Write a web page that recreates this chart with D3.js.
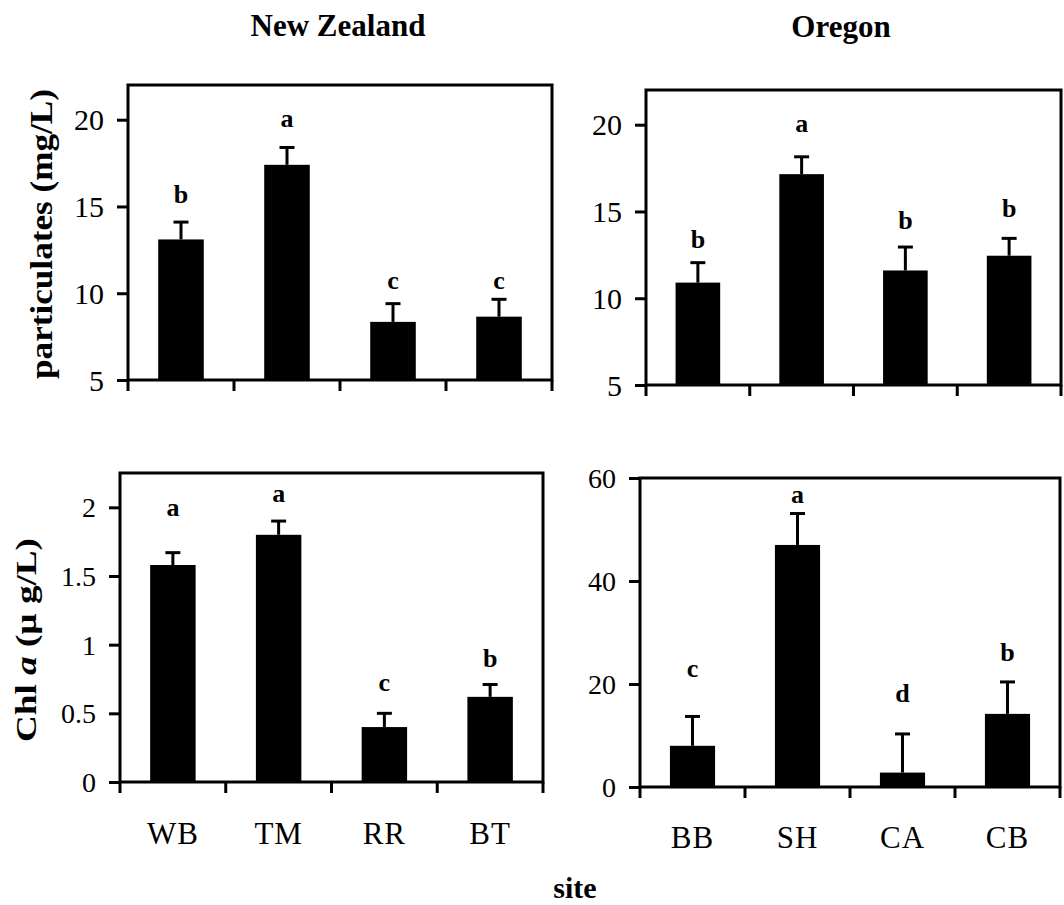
<!DOCTYPE html>
<html>
<head>
<meta charset="utf-8">
<script src="https://cdn.jsdelivr.net/npm/d3@7"></script>
<style>
  body { margin: 0; background: #fff; }
  svg { display: block; }
  text { font-family: "Liberation Serif", "Times New Roman", serif; fill: #000; }
</style>
</head>
<body>
<svg id="chart" width="1064" height="905"></svg>
<script>
// ---- data ----
const nzSites = ['WB', 'TM', 'RR', 'BT'];
const orSites = ['BB', 'SH', 'CA', 'CB'];

// particulates (mg/L)
const nzPart = [13.1, 17.4, 8.35, 8.65];
const nzPartErr = [1.0, 1.0, 1.05, 1.0];
const nzPartSig = ['b', 'a', 'c', 'c'];
const nzPartSigY = [15.2, 19.6, 10.25, 10.25];

const orPart = [10.9, 17.15, 11.6, 12.45];
const orPartErr = [1.15, 1.0, 1.35, 1.0];
const orPartSig = ['b', 'a', 'b', 'b'];
const orPartSigY = [12.9, 19.6, 14.0, 14.7];

// Chl a (ug/L)
const nzChl = [1.58, 1.80, 0.40, 0.62];
const nzChlErr = [0.09, 0.10, 0.10, 0.09];
const nzChlSig = ['a', 'a', 'c', 'b'];
const nzChlSigY = [1.94, 2.04, 0.66, 0.84];

const orChl = [8, 47, 2.8, 14.2];
const orChlErr = [5.7, 6.1, 7.5, 6.2];
const orChlSig = ['c', 'a', 'd', 'b'];
const orChlSigY = [21.4, 55.1, 16.5, 24.5];

const partTicks = [5, 10, 15, 20];
const nzChlTicks = [0, 0.5, 1, 1.5, 2];
const orChlTicks = [0, 20, 40, 60];

// ---- layout ----
const svg = d3.select('#chart');
const LW = 3;

const panels = [
  { sites: nzSites, vals: nzPart, errs: nzPartErr, sig: nzPartSig, sigY: nzPartSigY,
    domain: [5, 22], ticks: partTicks, x0: 128, x1: 552, y0: 85, y1: 380, tickFont: 30 },
  { sites: orSites, vals: orPart, errs: orPartErr, sig: orPartSig, sigY: orPartSigY,
    domain: [5, 22], ticks: partTicks, x0: 646, x1: 1061, y0: 90, y1: 385, tickFont: 30 },
  { sites: nzSites, vals: nzChl, errs: nzChlErr, sig: nzChlSig, sigY: nzChlSigY,
    domain: [0, 2.25], ticks: nzChlTicks, x0: 120, x1: 543, y0: 473, y1: 782, tickFont: 28,
    labels: true, labelY: 844 },
  { sites: orSites, vals: orChl, errs: orChlErr, sig: orChlSig, sigY: orChlSigY,
    domain: [0, 60], ticks: orChlTicks, x0: 640, x1: 1060, y0: 478, y1: 787, tickFont: 28,
    labels: true, labelY: 848 }
];

panels.forEach(p => {
  const g = svg.append('g');
  const x = d3.scaleBand().domain(p.sites).range([p.x0, p.x1])
    .paddingInner(0.57).paddingOuter(0.285);
  const y = d3.scaleLinear().domain(p.domain).range([p.y1, p.y0]);
  const bw = x.bandwidth();

  // bars
  g.selectAll('rect.bar').data(p.sites).join('rect')
    .attr('class', 'bar')
    .attr('x', d => x(d))
    .attr('width', bw)
    .attr('y', (d, i) => y(p.vals[i]))
    .attr('height', (d, i) => y(p.domain[0]) - y(p.vals[i]))
    .attr('fill', '#000');

  // error bars (upper only)
  const eb = g.selectAll('g.err').data(p.sites).join('g').attr('class', 'err');
  eb.append('line')
    .attr('x1', d => x(d) + bw / 2).attr('x2', d => x(d) + bw / 2)
    .attr('y1', (d, i) => y(p.vals[i])).attr('y2', (d, i) => y(p.vals[i] + p.errs[i]))
    .attr('stroke', '#000').attr('stroke-width', LW);
  eb.append('line')
    .attr('x1', d => x(d) + bw / 2 - 7.5).attr('x2', d => x(d) + bw / 2 + 7.5)
    .attr('y1', (d, i) => y(p.vals[i] + p.errs[i])).attr('y2', (d, i) => y(p.vals[i] + p.errs[i]))
    .attr('stroke', '#000').attr('stroke-width', LW);

  // significance letters
  g.selectAll('text.sig').data(p.sites).join('text')
    .attr('class', 'sig')
    .attr('x', d => x(d) + bw / 2)
    .attr('y', (d, i) => y(p.sigY[i]))
    .attr('text-anchor', 'middle')
    .attr('font-weight', 'bold')
    .attr('font-size', 26)
    .text((d, i) => p.sig[i]);

  // frame
  g.append('rect')
    .attr('x', p.x0).attr('y', p.y0)
    .attr('width', p.x1 - p.x0).attr('height', p.y1 - p.y0)
    .attr('fill', 'none').attr('stroke', '#000').attr('stroke-width', LW);

  // y axis
  const yAxis = d3.axisLeft(y).tickValues(p.ticks).tickSize(11).tickPadding(13)
    .tickFormat(d3.format('~g'));
  const ya = g.append('g').attr('transform', `translate(${p.x0},0)`).call(yAxis);
  ya.select('.domain').remove();
  ya.selectAll('line').attr('stroke-width', LW);
  ya.selectAll('text').attr('font-size', p.tickFont)
    .attr('font-family', '"Liberation Serif", serif').attr('dy', '0.34em');

  // x ticks at slot boundaries
  const bounds = d3.range(p.sites.length + 1).map(i => p.x0 + i * (p.x1 - p.x0) / p.sites.length);
  g.selectAll('line.xt').data(bounds).join('line')
    .attr('class', 'xt')
    .attr('x1', d => d).attr('x2', d => d)
    .attr('y1', p.y1).attr('y2', p.y1 + 11)
    .attr('stroke', '#000').attr('stroke-width', LW);

  if (p.labels) {
    g.selectAll('text.cat').data(p.sites).join('text')
      .attr('class', 'cat')
      .attr('x', d => x(d) + bw / 2)
      .attr('y', p.labelY)
      .attr('text-anchor', 'middle')
      .attr('font-size', 31)
      .attr('letter-spacing', 1)
      .text(d => d);
  }
});

// titles
svg.append('text').attr('x', 338).attr('y', 36).attr('text-anchor', 'middle')
  .attr('font-size', 31).attr('font-weight', 'bold').text('New Zealand');
svg.append('text').attr('x', 841).attr('y', 37).attr('text-anchor', 'middle')
  .attr('font-size', 31).attr('font-weight', 'bold').text('Oregon');

// y labels
svg.append('text')
  .attr('transform', 'translate(52,234) rotate(-90)')
  .attr('text-anchor', 'middle')
  .attr('font-size', 32).attr('font-weight', 'bold')
  .attr('textLength', 290).attr('lengthAdjust', 'spacingAndGlyphs')
  .text('particulates (mg/L)');

const chl = svg.append('text')
  .attr('transform', 'translate(36,640) rotate(-90)')
  .attr('text-anchor', 'middle')
  .attr('font-size', 30).attr('font-weight', 'bold')
  .attr('textLength', 204).attr('lengthAdjust', 'spacingAndGlyphs');
chl.append('tspan').text('Chl ');
chl.append('tspan').attr('font-style', 'italic').text('a');
chl.append('tspan').text('  (\u00b5 g/L)');

// x label
svg.append('text').attr('x', 575).attr('y', 898).attr('text-anchor', 'middle')
  .attr('font-size', 30).attr('font-weight', 'bold').text('site');
</script>
</body>
</html>
